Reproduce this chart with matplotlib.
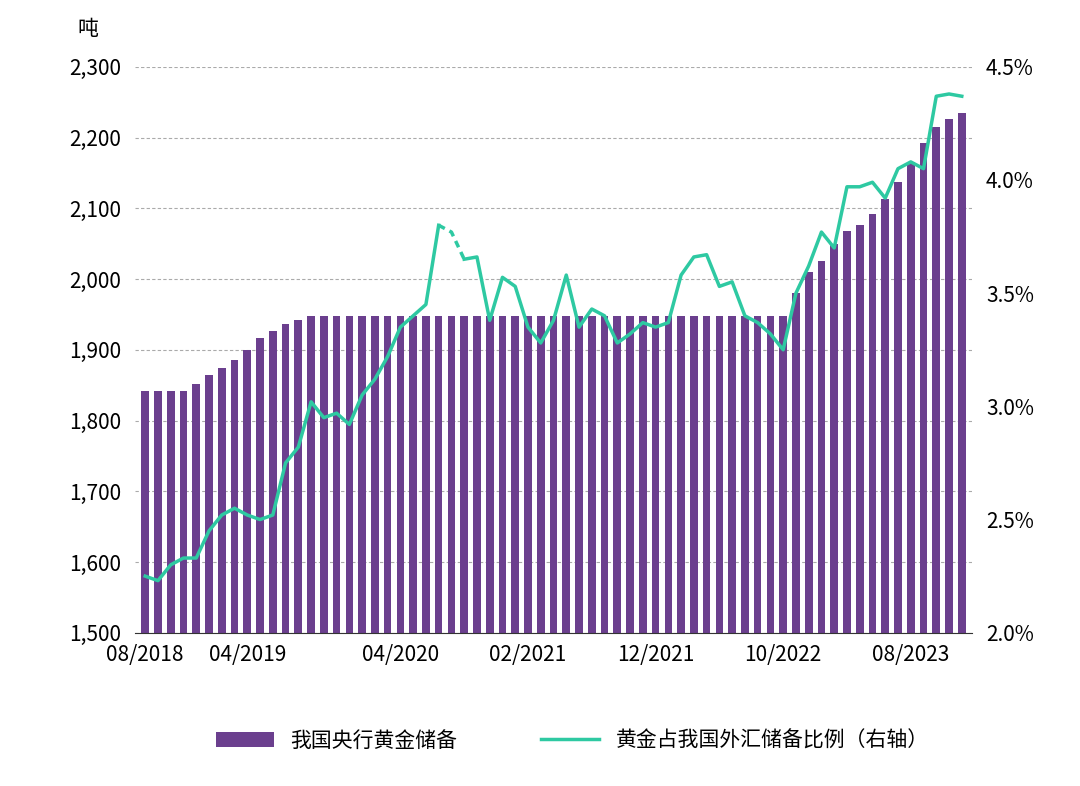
import matplotlib
matplotlib.use("Agg")
import matplotlib.pyplot as plt
from matplotlib.ticker import FuncFormatter
import numpy as np

plt.rcParams["font.family"] = ["Noto Sans CJK SC", "DejaVu Sans"]

months = [f"{m:02d}/{y}" for y in range(2018, 2024) for m in range(1, 13)][7:]  # 08/2018..12/2023
gold = [1842]*4 + [1852, 1864, 1874, 1885, 1900, 1916, 1926, 1936, 1942] + [1948]*38 + \
       [1980, 2010, 2025, 2050, 2068, 2076, 2092, 2113, 2137, 2165, 2192, 2215, 2226, 2235]
ratio = [2.25, 2.23, 2.3, 2.33, 2.33, 2.45, 2.52, 2.55, 2.52, 2.5,
         2.52, 2.75, 2.82, 3.02, 2.95, 2.97, 2.92, 3.05, 3.12, 3.22,
         3.35, 3.4, 3.45, 3.8, 3.77, 3.65, 3.66, 3.38, 3.57, 3.53,
         3.35, 3.28, 3.38, 3.58, 3.35, 3.43, 3.4, 3.28, 3.32, 3.37,
         3.35, 3.37, 3.58, 3.66, 3.67, 3.53, 3.55, 3.4, 3.37, 3.32,
         3.25, 3.5, 3.62, 3.77, 3.7, 3.97, 3.97, 3.99, 3.92, 4.05,
         4.08, 4.05, 4.37, 4.38, 4.37]
tick_labels = ["08/2018", "04/2019", "04/2020", "02/2021", "12/2021", "10/2022", "08/2023"]
n = min(len(months), len(gold), len(ratio))
months, gold, ratio = months[:n], gold[:n], ratio[:n]
x = np.arange(n)

bar_c = "#6b3f8e"
line_c = "#2ec9a2"

fig = plt.figure(figsize=(10.8, 7.86), dpi=100)
ax = fig.add_axes([0.125, 0.195, 0.775, 0.72])
ax.set_axisbelow(True)
ax.yaxis.grid(True, linestyle=(0, (3, 2)), color="#aaaaaa", linewidth=0.8)
ax.bar(x, gold, width=0.6, color=bar_c, label="我国央行黄金储备")
ax.set_ylim(1500, 2300)
ax.set_xlim(-0.8, n - 0.2)
ax.set_yticks(range(1500, 2301, 100))
ax.yaxis.set_major_formatter(FuncFormatter(lambda v, p: f"{int(v):,}"))
ticks = [months.index(t) for t in tick_labels]
ax.set_xticks(ticks)
ax.set_xticklabels(tick_labels)
for s in ["top", "right", "left"]:
    ax.spines[s].set_visible(False)
ax.spines["bottom"].set_color("#333333")
ax.tick_params(axis="y", length=0, labelsize=15, pad=10)
ax.tick_params(axis="x", length=0, labelsize=15, pad=8)

ax2 = ax.twinx()
ax2.set_ylim(2.0, 4.5)
ax2.set_yticks(np.arange(2.0, 4.51, 0.5))
ax2.yaxis.set_major_formatter(FuncFormatter(lambda v, p: f"{v:.1f}%"))
for s in ax2.spines.values():
    s.set_visible(False)
ax2.tick_params(axis="y", length=0, labelsize=15, pad=10)
ax2.plot(x[:24], ratio[:24], color=line_c, lw=2.5, label="黄金占我国外汇储备比例（右轴）")
ax2.plot(x[23:26], ratio[23:26], color=line_c, lw=2.5, linestyle=(0, (2, 1.5)))
ax2.plot(x[25:], ratio[25:], color=line_c, lw=2.5)

fig.text(0.072, 0.955, "吨", fontsize=15)
h1, l1 = ax.get_legend_handles_labels()
h2, l2 = ax2.get_legend_handles_labels()
fig.legend(h1 + h2, l1 + l2, loc="lower center", bbox_to_anchor=(0.53, 0.02), ncol=2,
           frameon=False, fontsize=15, columnspacing=4, handlelength=2.8)
fig.savefig("out.png", dpi=100)
